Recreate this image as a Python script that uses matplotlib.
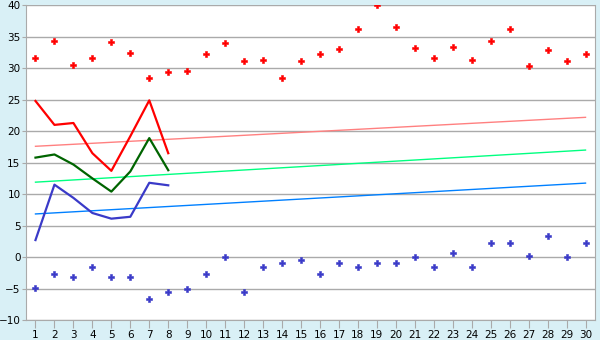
import numpy as np
import matplotlib
matplotlib.use("Agg")
import matplotlib.pyplot as plt

days = list(range(1, 31))

# scatter series (daily highs / lows)
high_pts = [31.7, 34.4, 30.5, 31.7, 34.1, 32.4, 28.4, 29.4, 29.5, 32.3,
            34.0, 31.1, 31.3, 28.4, 31.1, 32.3, 33.0, 36.2, 40.0, 36.5,
            33.2, 31.7, 33.3, 31.3, 34.4, 36.2, 30.3, 32.9, 31.1, 32.2]
low_pts = [-4.9, -2.7, -3.2, -1.6, -3.2, -3.2, -6.7, -5.6, -5.1, -2.7,
           0.0, -5.6, -1.6, -1.0, -0.5, -2.7, -1.0, -1.6, -1.0, -1.0,
           0.0, -1.6, 0.6, -1.6, 2.2, 2.2, 0.2, 3.3, 0.0, 2.2]

# measured lines, first 8 days
line_days = days[:8]
max_line = [24.8, 21.0, 21.3, 16.5, 13.7, 19.2, 24.9, 16.5]
avg_line = [15.8, 16.3, 14.7, 12.5, 10.4, 13.6, 18.9, 13.8]
min_line = [2.7, 11.5, 9.4, 7.0, 6.1, 6.4, 11.8, 11.4]

# long-term trend lines (start / end)
trend_days = [1, 30]
trend_max = [17.6, 22.2]
trend_avg = [11.9, 17.0]
trend_min = [6.85, 11.75]

bg = "#d9f0f6"
grid_c = "#aaaaaa"

fig = plt.figure(figsize=(6, 3.4), dpi=100, facecolor=bg)
ax = fig.add_axes([26 / 600, 1 - 320 / 340, 569 / 600, 314.7 / 340])
ax.set_facecolor("white")

ax.plot(trend_days, trend_max, color="#ff8080", lw=1)
ax.plot(trend_days, trend_avg, color="#00ff80", lw=1)
ax.plot(trend_days, trend_min, color="#0080ff", lw=1)

ax.plot(line_days, max_line, color="#ff0000", lw=1.6)
ax.plot(line_days, avg_line, color="#006400", lw=1.6)
ax.plot(line_days, min_line, color="#3a3ac8", lw=1.6)

ax.plot(days, high_pts, ls="none", marker="P", ms=5, color="#ff0000", mew=0.4)
ax.plot(days, low_pts, ls="none", marker="P", ms=5, color="#3a3ac8", mew=0.4)

ax.set_xlim(0.5, 30.5)
ax.set_ylim(-10, 40)
ax.set_xticks(days)
ax.set_yticks(range(-10, 41, 5))
ax.yaxis.grid(True, color=grid_c, lw=1)
ax.set_axisbelow(True)

for s in ["left", "bottom", "right"]:
    ax.spines[s].set_color(grid_c)
ax.spines["top"].set_visible(False)

ax.tick_params(axis="y", length=3, pad=1, color=grid_c, labelsize=7.5)
ax.tick_params(axis="x", length=6, pad=1, color=grid_c, labelsize=7.5)

fig.savefig("out.png", dpi=100, facecolor=bg)
